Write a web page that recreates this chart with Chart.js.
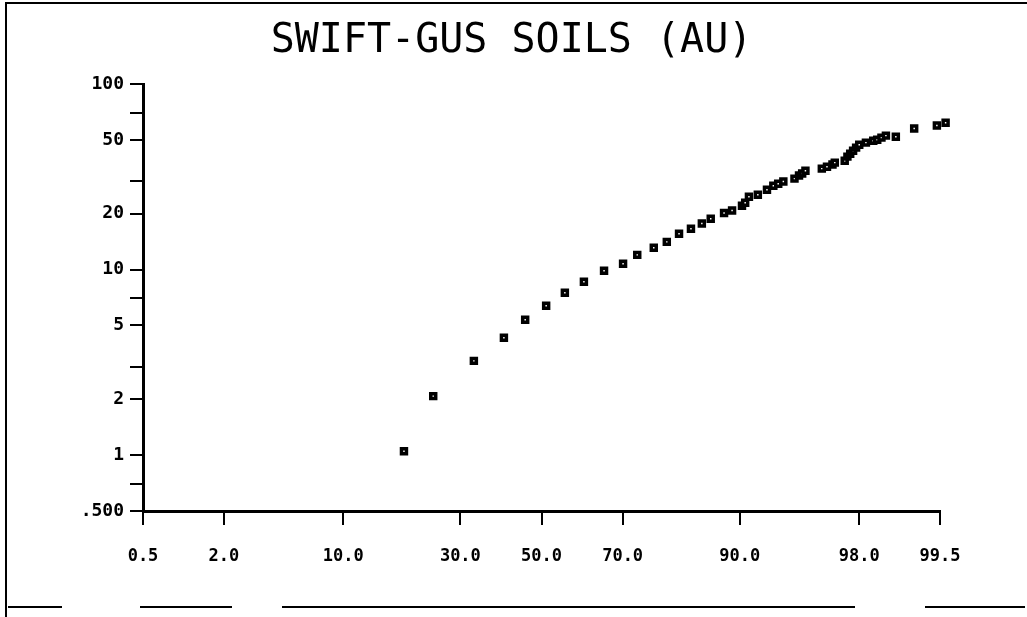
<!DOCTYPE html>
<html>
<head>
<meta charset="utf-8">
<title>SWIFT-GUS SOILS (AU)</title>
<script src="https://cdn.jsdelivr.net/npm/chart.js@4.4.0/dist/chart.umd.min.js"></script>
<style>
  html, body { margin: 0; padding: 0; background: #fff; }
  #wrap { width: 1027px; height: 617px; }
</style>
</head>
<body>
<div id="wrap"><canvas id="chart" width="1027" height="617"></canvas></div>
<script>
// cumulative percent of each sample (probability axis)
const cumPercent = [
    18.7, 24.2, 33.1, 40.4, 45.8, 51.2, 56.0, 60.8, 65.7, 70.1,
    73.2, 76.6, 79.1, 81.3, 83.3, 85.0, 86.3, 88.1, 89.1, 90.25,
    90.6, 91.0, 91.9, 92.75, 93.3, 93.7, 94.1, 94.9, 95.2, 95.4,
    95.6, 96.5, 96.75, 97.0, 97.1, 97.5, 97.6, 97.7, 97.8, 97.9,
    98.0, 98.2, 98.4, 98.5, 98.6, 98.7, 98.9, 99.2, 99.47, 99.55
];

// Au value of each sample
const auValues = [
    1.05, 2.08, 3.22, 4.29, 5.36, 6.38, 7.50, 8.59, 9.85, 10.75,
    12.0, 13.1, 14.1, 15.6, 16.6, 17.7, 18.8, 20.2, 20.8, 22.1,
    22.9, 24.7, 25.3, 26.9, 28.3, 29.0, 29.8, 30.9, 32.1, 32.9,
    34.1, 35.0, 35.8, 36.8, 37.7, 38.6, 40.6, 42.1, 43.7, 45.4,
    47.1, 48.3, 49.5, 50.1, 51.4, 52.7, 52.0, 57.5, 59.7, 61.9
];

const xTickValues = [0.5, 2, 10, 30, 50, 70, 90, 98, 99.5];
const xTickLabels = ['0.5', '2.0', '10.0', '30.0', '50.0', '70.0', '90.0', '98.0', '99.5'];

const yTickValues = [0.5, 0.7, 1, 2, 3, 5, 7, 10, 20, 30, 50, 70, 100];
const yTickLabels = ['.500', '', '1', '2', '', '5', '', '10', '20', '', '50', '', '100'];

// inverse of the normal distribution (Acklam), percent -> z
const probit = (pct) => {
    const p = pct / 100;
    const a = [-3.969683028665376e+01, 2.209460984245205e+02, -2.759285104469687e+02, 1.383577518672690e+02, -3.066479806614716e+01, 2.506628277459239e+00];
    const b = [-5.447609879822406e+01, 1.615858368580409e+02, -1.556989798598866e+02, 6.680131188771972e+01, -1.328068155288572e+01];
    const c = [-7.784894002430293e-03, -3.223964580411365e-01, -2.400758277161838e+00, -2.549732539343734e+00, 4.374664141464968e+00, 2.938163982698783e+00];
    const d = [7.784695709041462e-03, 3.224671290700398e-01, 2.445134137142996e+00, 3.754408661907416e+00];
    const pLow = 0.02425;
    if (p < pLow) {
        const q = Math.sqrt(-2 * Math.log(p));
        return (((((c[0]*q+c[1])*q+c[2])*q+c[3])*q+c[4])*q+c[5]) / ((((d[0]*q+d[1])*q+d[2])*q+d[3])*q+1);
    }
    if (p > 1 - pLow) {
        const q = Math.sqrt(-2 * Math.log(1 - p));
        return -(((((c[0]*q+c[1])*q+c[2])*q+c[3])*q+c[4])*q+c[5]) / ((((d[0]*q+d[1])*q+d[2])*q+d[3])*q+1);
    }
    const q = p - 0.5;
    const r = q * q;
    return (((((a[0]*r+a[1])*r+a[2])*r+a[3])*r+a[4])*r+a[5])*q / (((((b[0]*r+b[1])*r+b[2])*r+b[3])*r+b[4])*r+1);
};

const xTickFont = { family: 'DejaVu Sans Mono', size: 17, weight: 'bold' };
const yTickFont = { family: 'DejaVu Sans Mono', size: 18, weight: 'bold' };

// white page plus the scanned frame lines
const framePlugin = {
    id: 'frame',
    beforeDraw: (chart) => {
        const ctx = chart.ctx;
        ctx.save();
        ctx.fillStyle = '#fff';
        ctx.fillRect(0, 0, chart.width, chart.height);
        ctx.strokeStyle = '#000';
        ctx.lineWidth = 2;
        ctx.beginPath();
        ctx.moveTo(5, 3);
        ctx.lineTo(chart.width, 3);
        ctx.moveTo(6, 3);
        ctx.lineTo(6, chart.height);
        [[8, 62], [140, 232], [282, 855], [925, 1025]].forEach(seg => {
            ctx.moveTo(seg[0], 607);
            ctx.lineTo(seg[1], 607);
        });
        ctx.stroke();
        ctx.restore();
    }
};

const ctx = document.getElementById('chart').getContext('2d');

new Chart(ctx, {
    type: 'scatter',
    data: {
        datasets: [{
            data: cumPercent.map((p, i) => ({ x: probit(p), y: auValues[i] })),
            pointStyle: 'rect',
            pointRadius: 3.5,
            borderWidth: 3.5,
            borderColor: '#000',
            backgroundColor: '#fff',
            showLine: false,
            clip: false
        }]
    },
    options: {
        responsive: false,
        devicePixelRatio: 1,
        animation: false,
        layout: { padding: { left: 83, right: 87, top: 0, bottom: 0 } },
        plugins: {
            legend: { display: false },
            tooltip: { enabled: false },
            title: {
                display: true,
                text: 'SWIFT-GUS SOILS (AU)',
                color: '#000',
                font: { family: 'DejaVu Sans Mono', size: 40, weight: 'normal', lineHeight: 1 },
                padding: { top: 22, bottom: 22 }
            }
        },
        scales: {
            x: {
                type: 'linear',
                bounds: 'data',
                // range set here so the last point past 99.5 is still drawn
                afterDataLimits: (scale) => {
                    scale.min = probit(0.5);
                    scale.max = probit(99.5);
                },
                afterBuildTicks: (scale) => {
                    scale.ticks = xTickValues.map(v => ({ value: probit(v) }));
                },
                afterFit: (scale) => { scale.height = 106; },
                grid: { drawOnChartArea: false, drawTicks: true, tickLength: 14, color: '#000', lineWidth: 2 },
                border: { display: true, color: '#000', width: 3 },
                ticks: {
                    color: '#000',
                    font: xTickFont,
                    padding: 21,
                    autoSkip: false,
                    maxRotation: 0,
                    callback: (value, index) => xTickLabels[index]
                }
            },
            y: {
                type: 'logarithmic',
                bounds: 'data',
                min: 0.5,
                max: 100,
                afterBuildTicks: (scale) => {
                    scale.ticks = yTickValues.map(v => ({ value: v }));
                },
                afterFit: (scale) => { scale.width = 60; },
                grid: { drawOnChartArea: false, drawTicks: true, tickLength: 13, color: '#000', lineWidth: 2 },
                border: { display: true, color: '#000', width: 3 },
                ticks: {
                    color: '#000',
                    font: yTickFont,
                    padding: 6,
                    autoSkip: false,
                    callback: (value, index) => yTickLabels[index]
                }
            }
        }
    },
    plugins: [framePlugin]
});
</script>
</body>
</html>
